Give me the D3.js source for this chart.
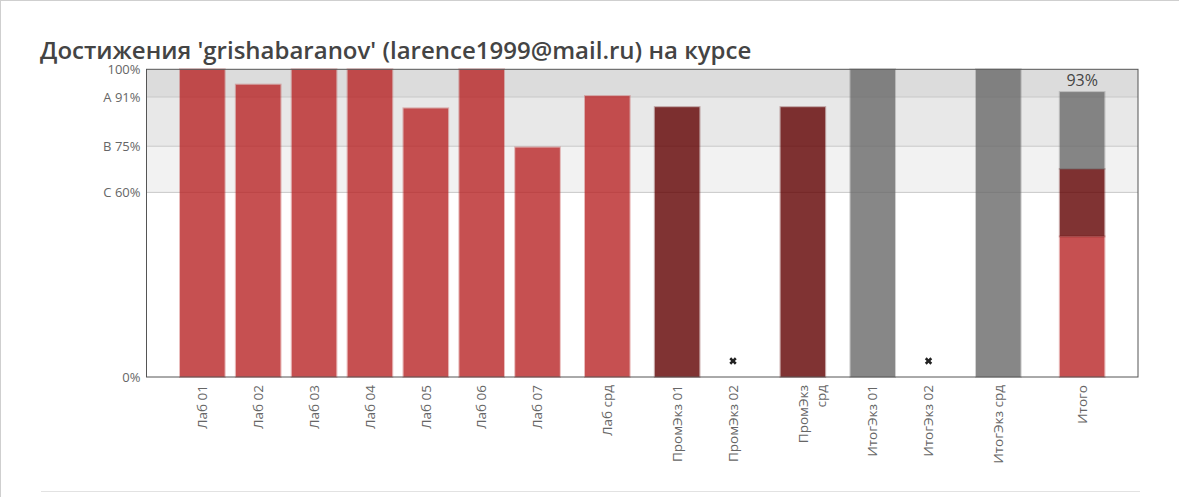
<!DOCTYPE html>
<html><head><meta charset="utf-8">
<script src="https://cdn.jsdelivr.net/npm/d3@7"></script>
<style>
html,body{margin:0;padding:0;background:#fff;}
svg{display:block;font-family:"Open Sans",sans-serif;}
</style></head>
<body>
<svg id="chart" width="1179" height="497"></svg>
<script>
// ---- data ----
const titleText = "Достижения 'grishabaranov' (larence1999@mail.ru) на курсе";
const categories = ["Лаб 01","Лаб 02","Лаб 03","Лаб 04","Лаб 05","Лаб 06","Лаб 07","Лаб срд",
  "ПромЭкз 01","ПромЭкз 02","ПромЭкз срд","ИтогЭкз 01","ИтогЭкз 02","ИтогЭкз срд","Итого"];
const tickLabelLines = [["Лаб 01"],["Лаб 02"],["Лаб 03"],["Лаб 04"],["Лаб 05"],["Лаб 06"],["Лаб 07"],["Лаб срд"],
  ["ПромЭкз 01"],["ПромЭкз 02"],["ПромЭкз","срд"],["ИтогЭкз 01"],["ИтогЭкз 02"],["ИтогЭкз срд"],["Итого"]];
const groups = ["lab","lab","lab","lab","lab","lab","lab","labAvg",
  "prom","prom","promAvg","itog","itog","itogAvg","total"];
const values = [100, 95, 100, 100, 87.3, 100, 74.6, 91.3, 87.7, null, 87.7, 100, null, 100, null];
const totalParts = [45.7, 21.9, 25.0];          // lab, prom, itog contributions to "Итого"
const totalPartKinds = ["lab","prom","itog"];
const totalLabel = "93%";
const yTickValues = [0, 60, 75, 91, 100];
const yTickLabels = ["0%", "C 60%", "B 75%", "A 91%", "100%"];
const gradeBands = [[60, 75], [75, 91], [91, 100]];

// ---- styles / layout ----
const bandColors = ["#f2f2f2", "#e8e8e8", "#dcdcdc"];
const kindColor = {lab:"#b82426", prom:"#600000", itog:"#696969"};
const groupKind = {lab:"lab", labAvg:"lab", prom:"prom", promAvg:"prom", itog:"itog", itogAvg:"itog"};
const groupGap = {total:0.5};
const plot = {left:146.5, right:1138, top:69.3, bottom:377};

// slot positions derived from group structure (gap between different groups)
const slots = [];
groups.forEach((g, i) => {
  if (i === 0) slots.push(0);
  else slots.push(slots[i-1] + 1 + (g !== groups[i-1] ? (groupGap[g] ?? 0.25) : 0));
});

const x = d3.scaleLinear().domain([-1, slots[slots.length-1] + 1]).range([plot.left, plot.right]);
const step = x(1) - x(0);
const barW = step * 0.8;
const y = d3.scaleLinear().domain([0, 100]).range([plot.bottom, plot.top]);

const svg = d3.select("#chart");

// page frame
svg.append("line").attr("x1",0).attr("x2",1179).attr("y1",0.5).attr("y2",0.5).attr("stroke","#cfcfcf");
svg.append("line").attr("x1",0.5).attr("x2",0.5).attr("y1",0).attr("y2",497).attr("stroke","#cfcfcf");
svg.append("line").attr("x1",41).attr("x2",1140).attr("y1",491.5).attr("y2",491.5).attr("stroke","#e2e2e2");

// title
svg.append("text").attr("x",40).attr("y",59).attr("fill","#444").attr("font-size",24)
  .attr("font-weight",600).text(titleText);

// grade bands
svg.append("g").selectAll("rect").data(gradeBands).join("rect")
  .attr("x", plot.left).attr("width", plot.right - plot.left)
  .attr("y", d => y(d[1])).attr("height", d => y(d[0]) - y(d[1]))
  .attr("fill", (d,i) => bandColors[i]);

// grid lines
svg.append("g").selectAll("line").data(yTickValues.filter(v => v > 0 && v < 100)).join("line")
  .attr("x1", plot.left).attr("x2", plot.right)
  .attr("y1", d => y(d)).attr("y2", d => y(d))
  .attr("stroke", "#c8c8c8").attr("stroke-width", 1);

// bars
const barData = categories.map((c, i) => ({c, i, v: values[i], g: groups[i]}))
  .filter(d => d.v != null && d.g !== "total");
const bars = svg.append("g");
function drawBar(g, cx, v0, v1, color) {
  g.append("rect").attr("x", cx - barW/2).attr("width", barW)
    .attr("y", y(v1)).attr("height", y(v0) - y(v1))
    .attr("fill", color).attr("fill-opacity", 0.8);
  g.append("rect").attr("x", cx - barW/2 - 0.5).attr("width", barW + 1)
    .attr("y", y(v1) - 0.5).attr("height", y(v0) - y(v1) + 1)
    .attr("fill", "none").attr("stroke", color).attr("stroke-opacity", 0.3).attr("stroke-width", 1);
}
barData.forEach(d => drawBar(bars, x(slots[d.i]), 0, d.v, kindColor[groupKind[d.g]]));

// stacked total
const ti = groups.indexOf("total");
let acc = 0;
totalParts.forEach((p, k) => {
  drawBar(bars, x(slots[ti]), acc, acc + p, kindColor[totalPartKinds[k]]);
  acc += p;
});
svg.append("text").attr("x", x(slots[ti])).attr("y", y(acc) - 6)
  .attr("text-anchor","middle").attr("font-size",16).attr("fill","#444").text(totalLabel);

// missing markers
const crossPath = d3.symbol().type(d3.symbolCross).size(34)();
svg.append("g").selectAll("path")
  .data(categories.map((c,i)=>({i, v: values[i], g: groups[i]})).filter(d => d.v == null && d.g !== "total"))
  .join("path")
  .attr("d", crossPath)
  .attr("transform", d => `translate(${x(slots[d.i])},${y(5.2)}) rotate(45)`)
  .attr("fill", "#222");

// plot frame
svg.append("rect").attr("x", plot.left).attr("y", plot.top)
  .attr("width", plot.right - plot.left).attr("height", plot.bottom - plot.top)
  .attr("fill","none").attr("stroke","#555").attr("stroke-width",1);

// y axis labels
svg.append("g").selectAll("text").data(yTickValues).join("text")
  .attr("x", plot.left - 6).attr("y", d => y(d)).attr("dy","0.35em")
  .attr("text-anchor","end").attr("font-size",13).attr("fill","#666")
  .text((d,i) => yTickLabels[i]);

// x axis labels (rotated)
const xl = svg.append("g").selectAll("text").data(categories).join("text")
  .attr("transform", (d,i) => `translate(${x(slots[i])},${plot.bottom + 8}) rotate(-90)`)
  .attr("text-anchor","end").attr("font-size",13.5).attr("fill","#666");
xl.each(function(d, i) {
  const lines = tickLabelLines[i];
  d3.select(this).selectAll("tspan").data(lines).join("tspan")
    .attr("x", 0).attr("dy", (l, k) => k === 0 ? "0.35em" : "1.35em").text(l => l);
});
</script>
</body></html>
